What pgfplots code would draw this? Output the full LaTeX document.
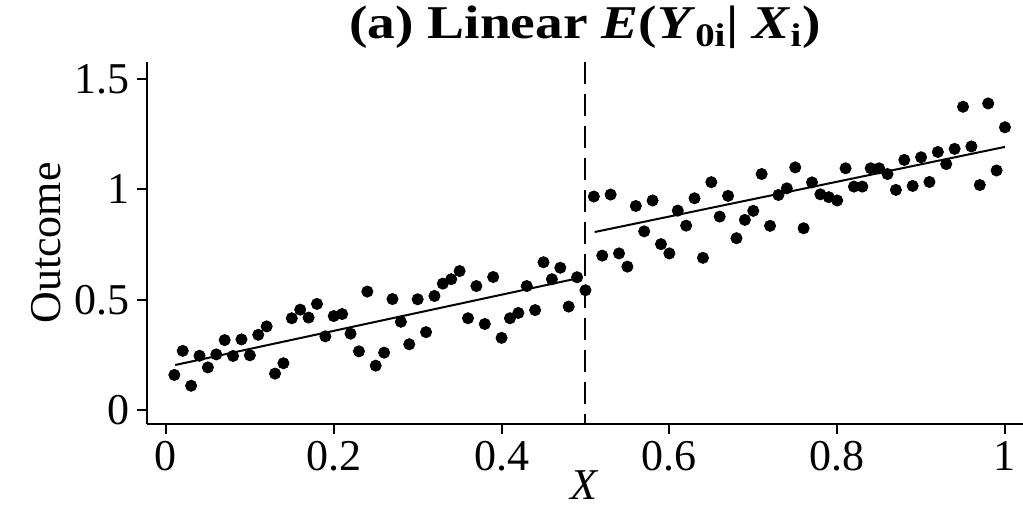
\documentclass[border=0pt]{standalone}
\usepackage{fontspec}
\setmainfont{Liberation Serif}
\newfontfamily\titlefont[FakeStretch=1.18]{Liberation Serif}
\usepackage{pgfplots}
\pgfplotsset{compat=1.18}
\usepackage{pgfplotstable}

\pgfplotstableread{
x y
0.01 0.159
0.02 0.268
0.03 0.110
0.04 0.246
0.05 0.193
0.06 0.252
0.07 0.317
0.08 0.245
0.09 0.320
0.10 0.248
0.11 0.341
0.12 0.379
0.13 0.165
0.14 0.212
0.15 0.416
0.16 0.455
0.17 0.419
0.18 0.481
0.19 0.334
0.20 0.426
0.21 0.435
0.22 0.346
0.23 0.266
0.24 0.537
0.25 0.201
0.26 0.260
0.27 0.503
0.28 0.400
0.29 0.298
0.30 0.502
0.31 0.353
0.32 0.517
0.33 0.573
0.34 0.593
0.35 0.630
0.36 0.416
0.37 0.562
0.38 0.390
0.39 0.603
0.40 0.327
0.41 0.416
0.42 0.440
0.43 0.562
0.44 0.453
0.45 0.670
0.46 0.593
0.47 0.645
0.48 0.469
0.49 0.602
0.50 0.543
}\leftpts

\pgfplotstableread{
x y
0.51 0.968
0.52 0.700
0.53 0.977
0.54 0.710
0.55 0.650
0.56 0.925
0.57 0.810
0.58 0.950
0.59 0.752
0.60 0.710
0.61 0.904
0.62 0.836
0.63 0.960
0.64 0.690
0.65 1.033
0.66 0.877
0.67 0.971
0.68 0.779
0.69 0.862
0.70 0.903
0.71 1.070
0.72 0.835
0.73 0.975
0.74 1.005
0.75 1.100
0.76 0.824
0.77 1.032
0.78 0.978
0.79 0.965
0.80 0.950
0.81 1.096
0.82 1.013
0.83 1.013
0.84 1.096
0.85 1.096
0.86 1.070
0.87 0.998
0.88 1.134
0.89 1.016
0.90 1.146
0.91 1.034
0.92 1.170
0.93 1.115
0.94 1.184
0.95 1.375
0.96 1.195
0.97 1.020
0.98 1.390
0.99 1.086
1.00 1.282
}\rightpts

\begin{document}
\begin{tikzpicture}
\begin{axis}[
  scale only axis,
  width=438pt, height=181pt,
  xmin=-0.0226, xmax=1.0215,
  ymin=-0.0635, ymax=1.578,
  axis lines=left,
  axis line style={-, line width=1.2pt},
  tick align=outside,
  major tick length=5pt,
  tick style={line width=1pt, black},
  xtick={0,0.2,0.4,0.6,0.8,1},
  ytick={0,0.5,1,1.5},
  xticklabels={0,0.2,0.4,0.6,0.8,1},
  yticklabels={0,0.5,1,1.5},
  ticklabel style={font=\fontsize{22}{26}\selectfont},
  label style={font=\fontsize{22}{26}\selectfont},
  xlabel={\textit{X}},
  xlabel style={yshift=7pt},
  ylabel={Outcome},
  title={\textbf{(a) Linear \textit{E}(\textit{Y}\textsubscript{0i}| \textit{X}\textsubscript{i})}},
  title style={font=\titlefont\fontsize{23.5}{26}\selectfont, at={(0.5,1)}, anchor=base, yshift=5.5pt},
  clip=false,
]
\addplot[only marks, mark=*, mark size=2.8pt, black] table {\leftpts};
\addplot[only marks, mark=*, mark size=2.8pt, black] table {\rightpts};
\addplot[black, line width=1pt] coordinates {(0.011,0.204) (0.493,0.599)};
\addplot[black, line width=1pt] coordinates {(0.511,0.807) (1.0,1.193)};
\addplot[black, line width=1pt, dash pattern=on 11pt off 5pt] coordinates {(0.5,1.578) (0.5,-0.0635)};
\end{axis}
\pgfresetboundingbox
\path (-73.5pt,-41.5pt) rectangle (438pt,212pt);
\end{tikzpicture}
\end{document}
